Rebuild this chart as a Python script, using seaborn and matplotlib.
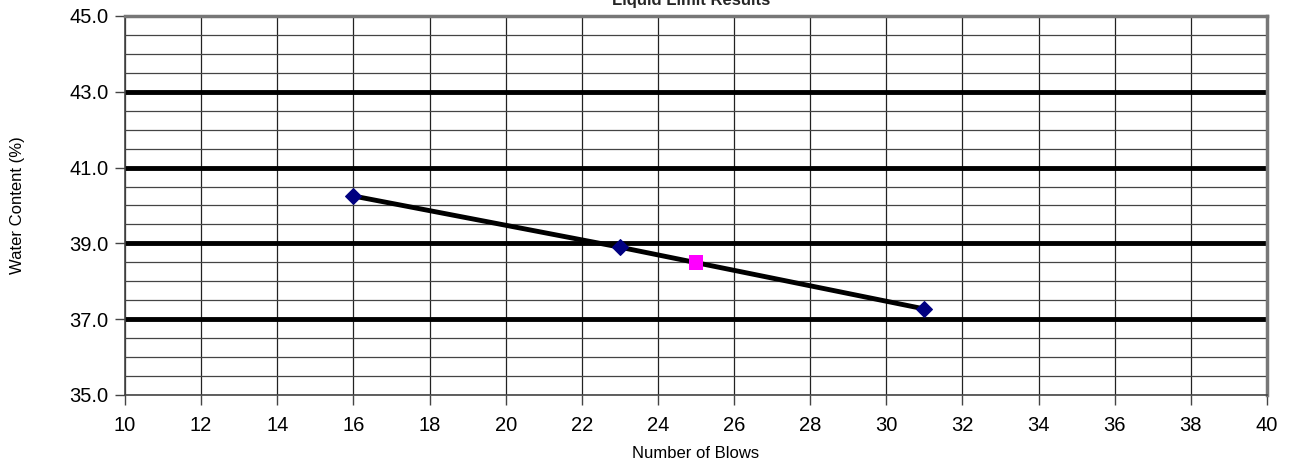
import numpy as np
import pandas as pd
import matplotlib
matplotlib.use("Agg")
import matplotlib.pyplot as plt
import seaborn as sns

# data
blows = [16, 23, 31]
water_content = [40.25, 38.9, 37.27]
ll_blows = [25]
ll_water = [38.5]

x_ticks = list(range(10, 41, 2))
y_major = [35.0, 37.0, 39.0, 41.0, 43.0, 45.0]
y_thick = [37.0, 39.0, 41.0, 43.0]

sns.set_style("white")
plt.rcParams['font.family'] = ['Liberation Sans', 'DejaVu Sans']

fig = plt.figure(figsize=(12.91, 4.70), dpi=100)
ax = fig.add_axes([0.0968, 0.1596, 0.8846, 0.8064])

df = pd.DataFrame({"Blows": blows, "Water": water_content})
ll = pd.DataFrame({"Blows": ll_blows, "Water": ll_water})

# grid
for x in x_ticks:
    ax.axvline(x, color="#222222", lw=0.9, zorder=1)
for y in np.arange(35.0, 45.01, 0.5):
    ax.axhline(y, color="#444444", lw=0.9, zorder=1)
for y in y_thick:
    ax.axhline(y, color="black", lw=3.5, zorder=2)

sns.lineplot(data=df, x="Blows", y="Water", ax=ax, color="black", lw=3.5,
             marker="D", markersize=8, markerfacecolor="#000080",
             markeredgecolor="#000080", zorder=4)
sns.scatterplot(data=ll, x="Blows", y="Water", ax=ax, color="#FF00FF",
                marker="s", s=110, edgecolor="none", zorder=5)

ax.set_xlim(10, 40)
ax.set_ylim(35, 45)
ax.set_xticks(x_ticks)
ax.set_yticks(y_major)
ax.set_yticklabels([f"{v:.1f}" for v in y_major])
ax.tick_params(axis="both", labelsize=14.5, length=7, width=1, color="#444444",
               labelcolor="black", direction="out", bottom=True, left=True)
ax.tick_params(axis="x", pad=8)
ax.tick_params(axis="y", pad=5)
ax.set_xlabel("Number of Blows", fontsize=12, color="black")
ax.set_ylabel("Water Content (%)", fontsize=12, color="black")
ax.xaxis.set_label_coords(0.5, -0.1346)
ax.yaxis.set_label_coords(-0.0876, 0.5)

for side in ["top", "right"]:
    ax.spines[side].set_color("#777777")
    ax.spines[side].set_linewidth(2.5)
for side in ["left", "bottom"]:
    ax.spines[side].set_color("#444444")
    ax.spines[side].set_linewidth(1.2)

fig.text(0.535, 1.0, "Liquid Limit Results", ha="center", va="center",
         fontsize=12, fontweight="bold")

fig.savefig("out.png", dpi=100)
